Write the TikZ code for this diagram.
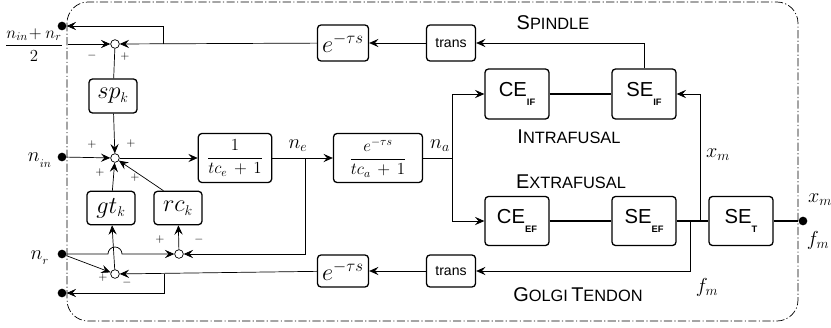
\documentclass[tikz,border=0pt]{standalone}
\usepackage{fontspec}
\setsansfont{Liberation Sans}
\usetikzlibrary{arrows.meta}
\newcommand\bsub[1]{\raisebox{-0.8ex}{\footnotesize\bfseries #1}}
\newcommand\grplbl[2]{{\fontsize{17}{19}\selectfont #1}{\fontsize{14}{16}\selectfont #2}}
\begin{document}
\begin{tikzpicture}[x=0.03cm, y=-0.03cm, line width=0.6pt,
    blk/.style={draw, line width=1.1pt, rounded corners=3pt, inner sep=1pt},
    sum/.style={circle, draw, fill=white, inner sep=0pt, minimum size=0.26cm},
    pin/.style={circle, fill=black, inner sep=0pt, minimum size=0.26cm},
    arr/.style={-{Stealth[length=8pt, width=7pt, inset=3pt]}},
    sgn/.style={inner sep=0pt, font=\normalsize},
    grp/.style={font=\sffamily, inner sep=0pt}]
    \useasboundingbox (0,0) rectangle (831,327);

    \draw[dash pattern=on 7pt off 2pt on 1pt off 2pt, rounded corners=18] (67,2) rectangle (798,321);

    \foreach \n/\x/\y in {out1/62/26, nin/62/157, nr/62/254, out3/62/293, out2/803/221} {
            \node[pin] (\n) at (\x,\y) {};
        }
    \foreach \n/\x/\y in {s1/115/44, s2/115/158, s3/179/254, s4/115/274} {
            \node[sum] (\n) at (\x,\y) {};
        }

    % spindle feedback
    \node[blk, minimum width=1.47cm, minimum height=1.08cm, font=\sffamily\large] (tr1) at (451,43) {trans};
    \node[blk, minimum width=1.53cm, minimum height=1.08cm, font=\huge] (dl1) at (343,43) {$e^{-\tau s}$};
    \node[blk, minimum width=1.44cm, minimum height=1.02cm, font=\huge] (sp) at (113,96) {$sp_{\scriptscriptstyle k}$};

    % forward path
    \node[blk, minimum width=2.2cm, minimum height=1.47cm, font=\Large] (ge) at (235,158) {$\displaystyle\frac{1}{tc_e\,+\,1}$};
    \node[blk, minimum width=2.67cm, minimum height=1.47cm, font=\Large] (ga) at (378,158) {$\displaystyle\frac{e^{-\tau s}}{tc_a\,+\,1}$};
    \node[blk, minimum width=1.92cm, minimum height=1.5cm, font=\sffamily\LARGE] (ceif) at (517,94) {CE\bsub{IF}};
    \node[blk, minimum width=1.92cm, minimum height=1.5cm, font=\sffamily\LARGE] (seif) at (644,94) {SE\bsub{IF}};
    \node[blk, minimum width=1.92cm, minimum height=1.47cm, font=\sffamily\LARGE] (ceef) at (517,221) {CE\bsub{EF}};
    \node[blk, minimum width=1.92cm, minimum height=1.47cm, font=\sffamily\LARGE] (seef) at (644,221) {SE\bsub{EF}};
    \node[blk, minimum width=1.92cm, minimum height=1.47cm, font=\sffamily\LARGE] (set) at (741,221) {SE\bsub{T}};

    % golgi tendon feedback
    \node[blk, minimum width=1.47cm, minimum height=0.96cm, font=\sffamily\large] (tr2) at (451,271) {trans};
    \node[blk, minimum width=1.53cm, minimum height=0.96cm, font=\huge] (dl2) at (343,271) {$e^{-\tau s}$};
    \node[blk, minimum width=1.44cm, minimum height=1.0cm, font=\huge] (gt) at (111,208) {$gt_{\scriptscriptstyle k}$};
    \node[blk, minimum width=1.44cm, minimum height=1.0cm, font=\huge] (rc) at (178,208) {$rc_{\scriptscriptstyle k}$};

    \coordinate (c1) at (68,44);
    \coordinate (b1) at (163,44);
    \coordinate (ne) at (305,158);
    \coordinate (na) at (452,158);
    \coordinate (xm) at (700,221);
    \coordinate (fm) at (690,221);
    \coordinate (b2) at (164,274);
    \coordinate (hop) at (115,254);

    \draw[arr] (seif.north) |- (tr1.east);
    \draw[arr] (tr1) -- (dl1);
    \draw[arr] (dl1) -- (s1);
    \draw[arr] (b1) |- (out1);
    \draw[arr] (c1) -- (s1);
    \draw (s1) -- (sp);
    \draw[arr] (sp) -- (s2);
    \draw[arr] (nin) -- (s2);
    \draw[arr] (s2) -- (ge);
    \draw[arr] (ge) -- (ga);
    \draw (ga) -- (na);
    \draw[arr] (na) |- (ceif);
    \draw[arr] (na) |- (ceef);
    \draw[line width=1.1pt] (ceif) -- (seif);
    \draw[line width=1.1pt] (ceef) -- (seef) -- (set) -- (out2);
    \draw[arr] (xm) |- (seif.east);
    \draw[arr] (fm) |- (tr2.east);
    \draw[arr] (tr2) -- (dl2);
    \draw[arr] (dl2) -- (s4);
    \draw[arr] (b2) |- (out3);
    \draw[arr] (s4) -- (gt);
    \draw[arr] (gt) -- (s2);
    \draw[arr] (rc.130) -- (s2);
    \draw[arr] (s3) -- (rc);
    \draw[arr] (ne) |- (s3);
    \draw[arr] (nr) -- (s4);
    \draw[arr] (nr) -- ([xshift=-7*0.03cm]hop) arc[start angle=180, end angle=360, radius=7] -- (s3);

    % signs
    \foreach \n/\x/\y/\s in {g1/92/56/-, g2/125/57/+, g3/92/145/+, g4/131/144/+,
            g5/100/173/+, g6/135/178/+, g7/160/240/+, g8/199/240/-, g9/103/278/+, g10/127/283/-} {
            \node[sgn] (\n) at (\x,\y) {$\s$};
        }

    % labels
    \node[font=\Large] (lnin2) at (34,45) {$\displaystyle\frac{n_{in}\!+n_r}{2}$};
    \node[font=\LARGE] (lnin) at (40,160) {$n_{_{in}}$};
    \node[font=\LARGE] (lnr) at (40,258) {$n_{_r}$};
    \node[font=\LARGE] (lne) at (298,146) {$n_e$};
    \node[font=\LARGE] (lna) at (440,146) {$n_a$};
    \node[font=\LARGE] (lxm) at (718,155) {$x_m$};
    \node[font=\LARGE] (lfm) at (707,287) {$f_m$};
    \node[font=\LARGE] (lxm2) at (820,200) {$x_m$};
    \node[font=\LARGE] (lfm2) at (818,240) {$f_m$};

    \node[grp] (lsp) at (553,23) {\grplbl{S}{PINDLE}};
    \node[grp] (lif) at (569,137) {\grplbl{I}{NTRAFUSAL}};
    \node[grp] (lef) at (571,182) {\grplbl{E}{XTRAFUSAL}};
    \node[grp] (lgt) at (578,295) {\grplbl{G}{OLGI} \grplbl{T}{ENDON}};

\end{tikzpicture}
\end{document}
